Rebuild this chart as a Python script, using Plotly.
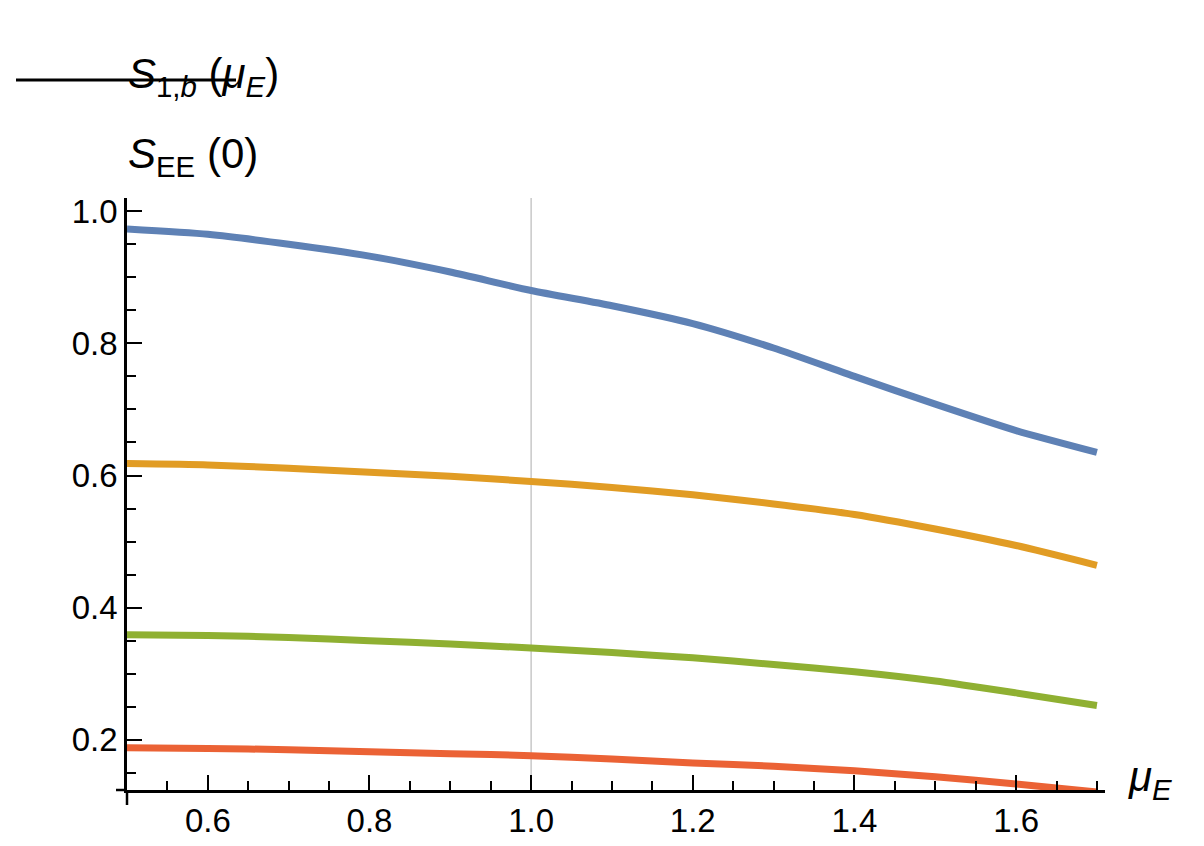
import plotly.graph_objects as go

# data
mu_e = [0.5, 0.6, 0.7, 0.8, 0.9, 1.0, 1.1, 1.2, 1.3, 1.4, 1.5, 1.6, 1.7]
s_blue = [0.973, 0.965, 0.950, 0.932, 0.908, 0.880, 0.857, 0.830, 0.793, 0.750, 0.708, 0.668, 0.635]
s_orange = [0.618, 0.616, 0.611, 0.605, 0.599, 0.591, 0.582, 0.571, 0.557, 0.541, 0.519, 0.494, 0.464]
s_green = [0.359, 0.358, 0.355, 0.350, 0.345, 0.339, 0.332, 0.324, 0.314, 0.303, 0.289, 0.271, 0.252]
s_red = [0.188, 0.187, 0.185, 0.182, 0.179, 0.176, 0.171, 0.165, 0.160, 0.153, 0.144, 0.133, 0.121]

series = [s_blue, s_orange, s_green, s_red]
colors = ["#5E81B5", "#E19C24", "#8FB032", "#EB6235"]

W, H = 1204, 846
L, R, T, B = 119, 107, 190, 64
pw, ph = W - L - R, H - T - B


def px_x(p):
    return (p - L) / pw


def px_y(p):
    return (H - B - p) / ph


fig = go.Figure()
for s, c in zip(series, colors):
    fig.add_trace(go.Scatter(x=mu_e, y=s, mode="lines", line=dict(color=c, width=7, shape="spline", smoothing=0.6),
                             showlegend=False, cliponaxis=True))

font = dict(family="Liberation Sans, Arial", size=33, color="black")
fig.update_xaxes(range=[0.5, 1.71], tickvals=[0.6, 0.8, 1.0, 1.2, 1.4, 1.6], ticktext=["0.6", "0.8", "1.0", "1.2", "1.4", "1.6"],
                 ticks="inside", ticklen=15, tickwidth=2, tickcolor="black", showline=True, linewidth=2.5,
                 linecolor="black", showgrid=False, zeroline=False, tickfont=font, automargin=False,
                 minor=dict(dtick=0.05, tick0=0.5, ticks="inside", ticklen=9, tickwidth=1.5, tickcolor="black"))
fig.update_yaxes(range=[0.124, 1.02], tickvals=[0.2, 0.4, 0.6, 0.8, 1.0], ticktext=["0.2", "0.4", "0.6", "0.8", "1.0"],
                 ticks="inside", ticklen=15, tickwidth=2, tickcolor="black", showline=True, linewidth=2.5,
                 linecolor="black", showgrid=False, zeroline=False, tickfont=font, automargin=False,
                 minor=dict(dtick=0.05, tick0=0.0, ticks="inside", ticklen=9, tickwidth=1.5, tickcolor="black"))

# vertical reference line at mu_E = 1
fig.add_shape(type="line", xref="x", yref="paper", x0=1.0, x1=1.0, y0=0, y1=1,
              line=dict(color="#C8C8C8", width=1.5), layer="below")
# axis line overhangs
fig.add_shape(type="line", xref="paper", yref="paper", x0=0, x1=0, y0=px_y(797), y1=0,
              line=dict(color="black", width=2.5))
fig.add_shape(type="line", xref="paper", yref="paper", x0=px_x(108), x1=0, y0=0, y1=0,
              line=dict(color="black", width=2.5))
# fraction bar
fig.add_shape(type="line", xref="paper", yref="paper", x0=px_x(8), x1=px_x(228), y0=px_y(72), y1=px_y(72),
              line=dict(color="black", width=3))

big = dict(family="Liberation Sans, Arial", size=42, color="black")
fig.add_annotation(xref="paper", yref="paper", x=px_x(118), y=px_y(40), showarrow=False, font=big,
                   text="<i>S</i><sub>1,<i>b</i></sub> (<i>μ<sub>E</sub></i>)")
fig.add_annotation(xref="paper", yref="paper", x=px_x(118), y=px_y(120), showarrow=False, font=big,
                   text="<i>S</i><sub>EE</sub> (0)")
fig.add_annotation(xref="paper", yref="paper", x=px_x(1166), y=px_y(800), showarrow=False, font=big,
                   text="<i>μ<sub>E</sub></i>")

fig.update_layout(width=W, height=H, margin=dict(l=L, r=R, t=T, b=B, autoexpand=False),
                  plot_bgcolor="white", paper_bgcolor="white")
fig.write_html("out.html")
